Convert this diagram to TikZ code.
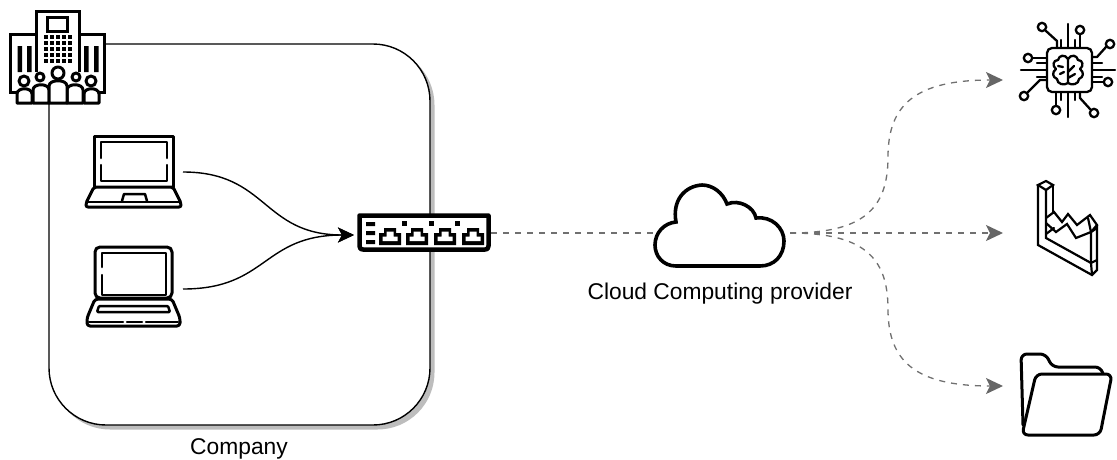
\documentclass[tikz,border=0pt]{standalone}
\usepackage{fontspec}
\setmainfont{Liberation Sans}
\usetikzlibrary{arrows.meta}
\definecolor{dashgray}{HTML}{707070}
\definecolor{tipgray}{HTML}{666666}
\definecolor{shadowgray}{HTML}{BDBDBD}
\tikzset{
  iconbox/.style={inner sep=0pt,outer sep=0pt,draw=none},
  icon/.style={line width=3pt,line join=round,line cap=round,draw=black},
  iconthin/.style={line width=2.5pt,line join=round,line cap=round,draw=black},
  link/.style={line width=1.4pt,-{Stealth[length=16pt,width=15pt,inset=4pt]},black},
  dashlink/.style={line width=1.3pt,dash pattern=on 6pt off 6pt,dashgray,-{Stealth[length=17pt,width=16pt,inset=4pt,color=tipgray]}},
  plainlink/.style={line width=1.3pt,dash pattern=on 6pt off 6pt,dashgray},
  caption/.style={font=\fontsize{22.8pt}{26pt}\selectfont,text=black,inner sep=0pt,anchor=base}
}
\newcommand{\arch}[4]{(#1,#4) -- (#1,#3+6) .. controls (#1,#3-1) and (#2,#3-1) .. (#2,#3+6) -- (#2,#4) -- cycle}
\begin{document}
\begin{tikzpicture}[x=1pt,y=-1pt]
\useasboundingbox (0,0) rectangle (1117,459);
% company area
\fill[shadowgray,rounded corners=57pt] (53,48) rectangle (434.5,429.5);
\node[iconbox,draw=black,fill=white,line width=1.4pt,rounded corners=57pt,minimum width=381pt,minimum height=381pt] (company) at (239.5,234.5) {};
\node[caption] (companylabel) at (239,454) {Company};
% anchors of the icons
\node[iconbox,minimum width=96pt,minimum height=72pt] (laptopA) at (134,171) {};
\node[iconbox,minimum width=96pt,minimum height=80pt] (laptopB) at (134,287) {};
\node[iconbox,minimum width=134pt,minimum height=37pt] (switch) at (424,234) {};
\node[iconbox,minimum width=130pt,minimum height=84pt] (cloud) at (720,233) {};
\node[iconbox,minimum width=94pt,minimum height=94pt] (chip) at (1068,70) {};
\node[iconbox,minimum width=60pt,minimum height=94pt] (chart) at (1067,229) {};
\node[iconbox,minimum width=92pt,minimum height=82pt] (folder) at (1066,394) {};
\coordinate (switchin) at (354,235);
\coordinate (fan) at (790,233);
\coordinate (chipin) at (1003,80);
\coordinate (chartin) at (1003,233);
\coordinate (folderin) at (1003,386);
% connectors
\draw[link] (183,172) .. controls (268,172) and (262,235) .. (switchin);
\draw[link] (183,289) .. controls (268,289) and (262,235) .. (switchin);
\draw[plainlink] (switch.east |- 0,233) -- (cloud.west |- 0,233);
\draw[dashlink] (fan) .. controls (862,233) and (888,210) .. (888,157) .. controls (888,105) and (915,80) .. (chipin);
\draw[dashlink] (fan) -- (chartin);
\draw[dashlink] (fan) .. controls (862,233) and (888,256) .. (888,309) .. controls (888,361) and (915,386) .. (folderin);
% laptop A
\draw[icon,fill=white] (94,187) -- (94,136) -- (173,136) -- (173,187) -- cycle;
\draw[iconthin] (101,158) -- (101,142) -- (167,142) -- (167,158) (167,165) -- (167,181) -- (101,181) -- (101,165);
\draw[icon,fill=white,rounded corners=2pt] (94,187) -- (173,187) -- (181,203) -- (181,207) -- (86,207) -- (86,203) -- cycle;
\draw[iconthin] (88,202) -- (179,202);
\draw[iconthin] (122,201) -- (124,194) -- (145,194) -- (147,201);
% laptop B
\draw[icon,fill=white,rounded corners=5pt] (95,298) -- (95,247) -- (172,247) -- (172,298) -- cycle;
\draw[iconthin] (102,267) -- (102,253) -- (166,253) -- (166,295) -- (102,295) -- (102,275);
\draw[icon,fill=white,rounded corners=3pt] (95,299) -- (172,299) -- (180,318) -- (180,326) -- (87,326) -- (87,318) -- cycle;
\draw[iconthin,rounded corners=1pt] (99,306) -- (168,306) -- (170,312) -- (97,312) -- cycle;
\draw[iconthin] (89,322) -- (123,322) (127,322) -- (142,322) (146,322) -- (178,322);
% switch
\draw[line width=4.5pt,fill=white,draw=black,line join=round] (359.5,215.5) -- (488.5,215.5) -- (488.5,246) .. controls (488.5,249) and (487,249.5) .. (485,249.5) -- (363,249.5) .. controls (361,249.5) and (359.5,249) .. (359.5,246) -- cycle;
\fill (366,222) rectangle (375,226) (366,231) rectangle (375,235) (366,240) rectangle (375,244);
\foreach \px in {390,417,445,473} {
  \fill (\px-11,245) -- (\px-11,233) -- (\px-6,233) -- (\px-6,228) -- (\px+6,228) -- (\px+6,233) -- (\px+11,233) -- (\px+11,245) -- cycle;
  \fill[white] (\px-7.5,241) -- (\px-7.5,236.5) -- (\px-3.5,236.5) -- (\px-3.5,231.5) -- (\px+3.5,231.5) -- (\px+3.5,236.5) -- (\px+7.5,236.5) -- (\px+7.5,241) -- cycle;
}
\foreach \px in {404,431,457} { \fill (\px-2.5,221) rectangle (\px+2.5,225.5); }
% cloud
\draw[line width=3.6pt,fill=white,draw=black,line join=miter]
  (676,222) .. controls (672,200) and (685,186) .. (702,185)
  .. controls (713,185) and (723,193) .. (727,204)
  .. controls (739,199) and (754,207) .. (756,218)
  .. controls (772,216) and (784,228) .. (784,241)
  .. controls (784,256) and (774,266) .. (760,266)
  -- (676,266)
  .. controls (663,266) and (655,256) .. (655,245)
  .. controls (655,233) and (664,223) .. (676,222) -- cycle;
% chip
\begin{scope}[iconthin,line width=2.3pt]
\draw (1068,24) -- (1068,48) (1061,40) -- (1061,48) (1075,40) -- (1075,48);
\draw (1068,92) -- (1068,117) (1061,92) -- (1061,100) (1075,92) -- (1075,100);
\draw (1021,70) -- (1047,70) (1037,63) -- (1047,63) (1037,77) -- (1047,77);
\draw (1092,70) -- (1115,70) (1092,63) -- (1102,63) (1092,77) -- (1102,77);
\draw (1046,31) -- (1057,41) -- (1057,48);
\draw (1080,35) -- (1080,48);
\draw (1106,47) -- (1097,57) -- (1092,57);
\draw (1033,58) -- (1047,58);
\draw (1092,82) -- (1103,82);
\draw (1056,92) -- (1056,105);
\draw (1090,109) -- (1080,98) -- (1080,92);
\draw (1028,92) -- (1040,80) -- (1047,80);
\draw[fill=white,rounded corners=5pt] (1047,48) rectangle (1092,92);
\draw (1042,27) circle (4.2pt) (1080,30) circle (4.2pt) (1110,44) circle (4.2pt) (1108,82) circle (4.2pt);
\draw (1094,113) circle (4.2pt) (1056,110) circle (4.2pt) (1024,96) circle (4.2pt) (1028,58) circle (4.2pt);
\draw (1068,59) .. controls (1065,54) and (1059,55) .. (1058,60) .. controls (1053,60) and (1052,66) .. (1056,69) .. controls (1052,72) and (1052,77) .. (1057,79) .. controls (1057,84) and (1064,86) .. (1068,83) .. controls (1072,86) and (1079,84) .. (1079,79) .. controls (1084,77) and (1084,72) .. (1080,69) .. controls (1084,66) and (1083,60) .. (1078,60) .. controls (1077,55) and (1071,54) .. (1068,59) -- cycle;
\draw (1068,59) -- (1068,83) (1058,66) -- (1063,67) (1060,74) -- (1064,72) (1068,72) -- (1074,66) (1068,78) -- (1075,74);
\end{scope}
% chart
\begin{scope}[iconthin,line width=2.2pt,line join=miter]
\draw (1038,185) -- (1046,181) -- (1053,185) -- (1046,190) -- cycle;
\draw (1038,185) -- (1038,245) -- (1092,275) -- (1097,270) -- (1097,225);
\draw (1046,190) -- (1046,238) -- (1091,263) -- (1097,260);
\draw (1091,263) -- (1092,275);
\draw (1053,185) -- (1053,212);
\draw (1046,218) -- (1054,212) -- (1062,222) -- (1068,214) -- (1077,225) -- (1090,215) -- (1097,225) -- (1091,232) -- (1091,263);
\draw (1046,223) -- (1056,232) -- (1067,224) -- (1076,238) -- (1091,232);
\draw (1046,234) -- (1054,228);
\draw (1091,232) -- (1097,228);
\draw (1088,218) -- (1091,232);
\end{scope}
% folder
\draw[icon,rounded corners=6pt] (1023,425) -- (1021,354) -- (1046,354) -- (1052,367) -- (1101,367) -- (1103,374);
\draw[icon,fill=white,rounded corners=6pt] (1022,435) -- (1036,374) -- (1112,374) -- (1100,435) -- cycle;
% building
\draw[icon,fill=white,line join=miter] (10,92) -- (10,34) -- (36,34) -- (36,11) -- (79,11) -- (79,34) -- (104,34) -- (104,92) -- cycle;
\draw[icon,line join=miter] (47,17) rectangle (67,31);
\draw[line width=3pt] (36,34) -- (36,72) (79,34) -- (79,72);
\foreach \gx in {44,50,56,62,68} { \foreach \gy in {35,41,47,53,59} { \fill (\gx,\gy) rectangle +(4,4); } }
\fill[white] (40,65) rectangle (74,72);
\fill (17.5,46) rectangle (22,72) (27,46) rectangle (31.5,72) (84,46) rectangle (88.5,72) (94,46) rectangle (98.5,72);
\begin{scope}[icon,fill=white]
\filldraw \arch{17}{32}{88}{103};
\filldraw \arch{84}{99}{88}{103};
\filldraw (24,81) circle (5pt) (91,81) circle (5pt);
\filldraw \arch{33}{49}{84}{103};
\filldraw \arch{67}{83}{84}{103};
\filldraw (40,77) circle (4pt) (76,77) circle (4pt);
\filldraw \arch{49}{67}{80}{103};
\filldraw (58,73) circle (6pt);
\end{scope}
\node[caption] (cloudlabel) at (720,299) {Cloud Computing provider};
\end{tikzpicture}
\end{document}
